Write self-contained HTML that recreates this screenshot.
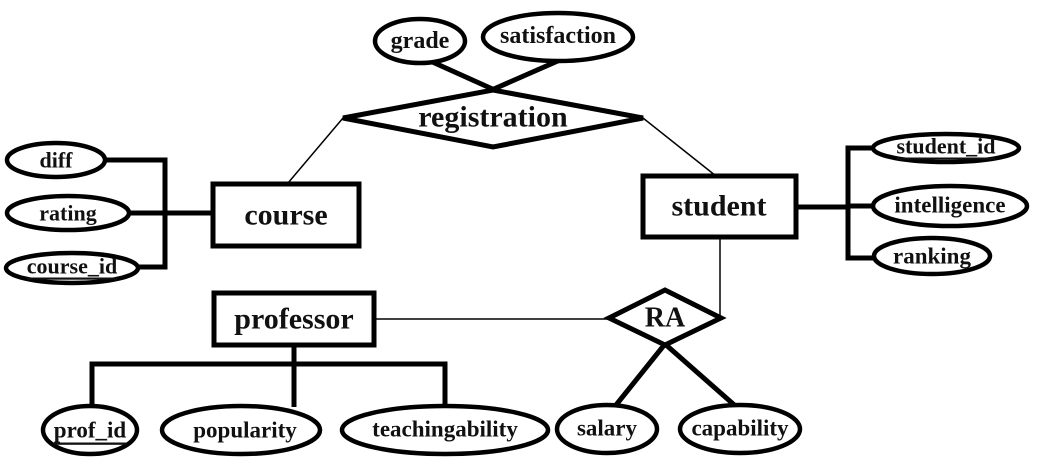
<!DOCTYPE html>
<html><head><meta charset="utf-8"><style>
html,body{margin:0;padding:0;background:#fff;}
svg{display:block;}
text{font-family:"Liberation Serif","DejaVu Serif",serif;font-weight:bold;fill:#111;text-anchor:middle;dominant-baseline:central;}
.k{stroke:#000;stroke-width:5;fill:none;}
.t{stroke:#000;stroke-width:1.5;fill:none;}
ellipse{stroke:#000;stroke-width:4.5;fill:#fff;}
</style></head><body>
<svg width="1051" height="474" viewBox="0 0 1051 474" font-family="Liberation Serif, DejaVu Serif, serif">
<line class="t" x1="288" y1="183" x2="343" y2="118"/>
<line class="t" x1="643" y1="118" x2="716" y2="176"/>
<line class="t" x1="720" y1="237" x2="720" y2="318"/>
<line class="t" x1="375" y1="319" x2="609" y2="319"/>

<line class="k" x1="428" y1="60" x2="508" y2="96"/>
<line class="k" x1="560" y1="60" x2="478" y2="96"/>
<ellipse cx="420" cy="41" rx="45" ry="22"/>
<text x="420" y="41" font-size="24">grade</text>
<ellipse cx="558" cy="37" rx="75" ry="24"/>
<text x="558" y="36" font-size="24">satisfaction</text>
<polygon class="k" points="343,118 493,90 643,118 493,147" style="fill:#fff"/>
<text x="493" y="117" font-size="30">registration</text>

<polyline class="k" points="105,160 165,160 165,267 138,267"/>
<line class="k" x1="128" y1="213" x2="212" y2="213"/>
<ellipse cx="56" cy="160" rx="49" ry="17"/>
<text x="56" y="160" font-size="22">diff</text>
<ellipse cx="68" cy="213" rx="61" ry="17"/>
<text x="68" y="213" font-size="22">rating</text>
<ellipse cx="72" cy="268" rx="66" ry="15"/>
<text x="72" y="266" font-size="22" text-decoration="underline">course_id</text>
<rect class="k" x="213" y="184" width="146" height="62" style="fill:#fff"/>
<text x="286" y="215" font-size="30">course</text>

<line class="k" x1="796" y1="207" x2="848" y2="207"/>
<polyline class="k" points="875,148 848,148 848,258 875,258"/>
<line class="k" x1="848" y1="206" x2="875" y2="206"/>
<ellipse cx="946" cy="148" rx="73" ry="14"/>
<text x="946" y="146" font-size="22" text-decoration="underline">student_id</text>
<ellipse cx="950" cy="206" rx="77" ry="20"/>
<text x="950" y="205" font-size="23">intelligence</text>
<ellipse cx="932" cy="256" rx="58" ry="18"/>
<text x="932" y="256" font-size="23">ranking</text>
<rect class="k" x="643" y="176" width="153" height="61" style="fill:#fff"/>
<text x="719" y="206" font-size="30">student</text>

<polyline class="k" points="92,408 92,364 445,364 445,408"/>
<line class="k" x1="294" y1="345" x2="294" y2="407"/>
<ellipse cx="90" cy="430" rx="47" ry="24"/>
<text x="90" y="430" font-size="23" text-decoration="underline">prof_id</text>
<ellipse cx="241" cy="430" rx="79" ry="24"/>
<text x="245" y="430" font-size="23">popularity</text>
<ellipse cx="445" cy="430" rx="103" ry="24"/>
<text x="445" y="429" font-size="23">teachingability</text>
<rect class="k" x="214" y="293" width="160" height="52" style="fill:#fff"/>
<text x="294" y="319" font-size="30">professor</text>

<line class="k" x1="665" y1="344" x2="612" y2="410"/>
<line class="k" x1="665" y1="344" x2="740" y2="410"/>
<ellipse cx="607" cy="429" rx="50" ry="24"/>
<text x="607" y="428" font-size="23">salary</text>
<ellipse cx="740" cy="429" rx="60" ry="24"/>
<text x="740" y="428" font-size="23">capability</text>
<polygon class="k" points="609,318 665,290 721,318 665,345" style="fill:#fff"/>
<text x="665" y="318" font-size="28">RA</text>
</svg>
</body></html>
